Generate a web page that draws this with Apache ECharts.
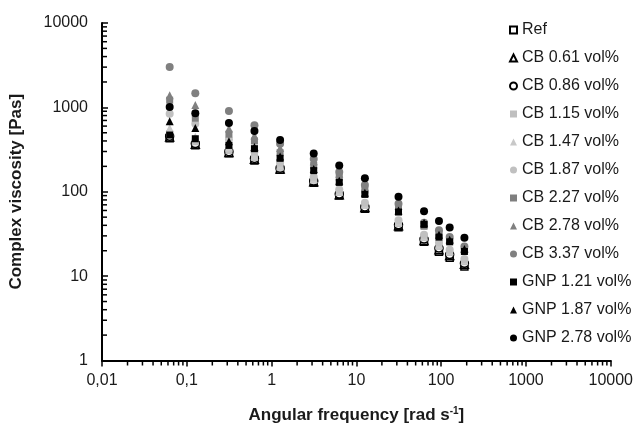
<!DOCTYPE html>
<html><head><meta charset="utf-8">
<script src="https://cdn.jsdelivr.net/npm/echarts@6/dist/echarts.min.js"></script>
<style>html,body{margin:0;padding:0;background:#fff}#c{width:636px;height:429px}</style>
</head><body><div id="c"></div>
<script>
var freq = [0.0628, 0.126, 0.314, 0.628, 1.26, 3.14, 6.28, 12.6, 31.4, 62.8, 94.2, 126, 188];
var seriesNames = ['Ref','CB 0.61 vol%','CB 0.86 vol%','CB 1.15 vol%','CB 1.47 vol%','CB 1.87 vol%','CB 2.27 vol%','CB 2.78 vol%','CB 3.37 vol%','GNP 1.21 vol%','GNP 1.87 vol%','GNP 2.78 vol%'];
var ref    = [430, 355, 285, 235, 182, 128, 90, 63, 38, 25.5, 19.5, 16.5, 13];
var cb061  = [445, 365, 292, 242, 186, 131, 92, 65, 39.5, 26.5, 20.5, 17.5, 13.8];
var cb086  = [455, 372, 298, 248, 190, 134, 94, 66, 40.5, 27.5, 21.5, 18, 14.2];
var cb115  = [490, 390, 308, 255, 195, 137, 98, 69, 42, 28.5, 22.5, 19, 14.8];
var cb147  = [568, 450, 335, 268, 203, 142, 101, 71, 44, 29.5, 23.5, 19.8, 15.3];
var cb187  = [843, 640, 415, 300, 220, 150, 106, 74, 46, 31, 25, 20.5, 16];
var cb227  = [1218, 745, 481, 400, 290, 205, 148, 105, 64, 39, 31, 26, 20];
var cb278  = [1390, 1070, 560, 465, 330, 230, 163, 114, 68, 41, 33, 27.5, 21.5];
var cb337  = [3000, 1475, 905, 615, 370, 245, 172, 120, 72, 43, 35, 29, 22.5];
var gnp121 = [470, 425, 354, 324, 249, 178, 129, 93, 57.5, 41, 29, 25.5, 19.6];
var gnp187 = [683, 568, 396, 340, 262, 186, 135, 97, 60, 43, 31, 27, 21];
var gnp278 = [1013, 850, 653, 525, 411, 284, 204, 145, 87, 58.6, 45, 37.8, 28.5];
var xTickLabels = ['0,01','0,1','1','10','100','1000','10000'];
var yTickLabels = ['1','10','100','1000','10000'];
var minorX = [], minorY = [];
[0.01,0.1,1,10,100,1000].forEach(function(d){for(var k=2;k<=9;k++)minorX.push([d*k,1]);});
[1,10,100,1000].forEach(function(d){for(var k=2;k<=9;k++)minorY.push([0.01,d*k]);});

var allData = [ref,cb061,cb086,cb115,cb147,cb187,cb227,cb278,cb337,gnp121,gnp187,gnp278];
var styles = [
  {symbol:'rect', size:7, color:'#ffffff', border:'#000000'},
  {symbol:'triangle', size:8, color:'#ffffff', border:'#000000'},
  {symbol:'circle', size:8, color:'#ffffff', border:'#000000'},
  {symbol:'rect', size:7, color:'#bfbfbf'},
  {symbol:'triangle', size:8, color:'#c8c8c8'},
  {symbol:'circle', size:8, color:'#c0c0c0'},
  {symbol:'rect', size:7, color:'#7f7f7f'},
  {symbol:'triangle', size:8, color:'#808080'},
  {symbol:'circle', size:8, color:'#808080'},
  {symbol:'rect', size:7, color:'#000000'},
  {symbol:'triangle', size:8, color:'#000000'},
  {symbol:'circle', size:8, color:'#000000'}
];
var FONT = 'Liberation Sans, Arial, sans-serif';
var series = allData.map(function(arr, i){
  var s = styles[i];
  return {
    name: seriesNames[i], type: 'scatter', symbol: s.symbol, symbolSize: s.size,
    data: freq.map(function(f, j){ return [f, arr[j]]; }),
    itemStyle: {color: s.color, borderColor: s.border || s.color, borderWidth: s.border ? 1.5 : 0, opacity: 1},
    emphasis: {disabled: true}
  };
});
series.push({
  type: 'custom', name: 'xminor', silent: true, clip: false, data: minorX, z: 5,
  encode: {x: 0, y: 1},
  renderItem: function(params, api){
    var p = api.coord([api.value(0), api.value(1)]);
    return {type:'line', shape:{x1:p[0], y1:p[1], x2:p[0], y2:p[1]+5}, style:{stroke:'#000000', lineWidth:1.5, fill:null}};
  }
});
series.push({
  type: 'custom', name: 'yminor', silent: true, clip: false, data: minorY, z: 5,
  encode: {x: 0, y: 1},
  renderItem: function(params, api){
    var p = api.coord([api.value(0), api.value(1)]);
    return {type:'line', shape:{x1:p[0], y1:p[1], x2:p[0]+5, y2:p[1]}, style:{stroke:'#000000', lineWidth:1.5, fill:null}};
  }
});

var chart = echarts.init(document.getElementById('c'), null, {renderer:'canvas'});
chart.setOption({
  animation: false,
  backgroundColor: '#ffffff',
  textStyle: {fontFamily: FONT},
  grid: {left: 97, right: 24, top: 23, bottom: 56, containLabel: false},
  legend: {
    data: seriesNames, orient: 'vertical', left: 504, top: 17,
    itemWidth: 7, itemHeight: 7, itemGap: 12, selectedMode: false,
    textStyle: {fontSize: 16, color: '#1a1a1a', fontFamily: FONT}
  },
  xAxis: {
    type: 'log', logBase: 10, min: 0.01, max: 10000,
    name: 'Angular frequency [rad s{sup|-1}]', nameLocation: 'middle', nameGap: 46,
    nameTextStyle: {fontSize: 17, fontWeight: 'bold', color: '#1a1a1a', fontFamily: FONT,
      rich: {sup: {fontSize: 10, fontWeight: 'bold', verticalAlign: 'top', padding:[0,0,8,0], color:'#1a1a1a'}}},
    axisLine: {lineStyle: {color: '#000', width: 2}},
    axisTick: {show: true, inside: false, length: 6, lineStyle: {color:'#000000', width: 1.5}},
    axisLabel: {fontSize: 16, color: '#1a1a1a', margin: 12, fontFamily: FONT,
      formatter: function(v){ var i = Math.round(Math.log10(v)) + 2; return xTickLabels[i] !== undefined ? xTickLabels[i] : ''; }},
    splitLine: {show: false}
  },
  yAxis: {
    type: 'log', logBase: 10, min: 1, max: 10000,
    name: 'Complex viscosity [Pas]', nameLocation: 'middle', nameGap: 77, nameRotate: 90,
    nameTextStyle: {fontSize: 17, fontWeight: 'bold', color: '#1a1a1a', fontFamily: FONT},
    axisLine: {show: true, lineStyle: {color: '#000', width: 2}},
    axisTick: {show: true, inside: true, length: 6, lineStyle: {color:'#000000', width: 1.5}},
    axisLabel: {fontSize: 16, color: '#1a1a1a', margin: 14, fontFamily: FONT,
      formatter: function(v){ var i = Math.round(Math.log10(v)); return yTickLabels[i] !== undefined ? yTickLabels[i] : ''; }},
    splitLine: {show: false}
  },
  series: series
});
</script></body></html>
